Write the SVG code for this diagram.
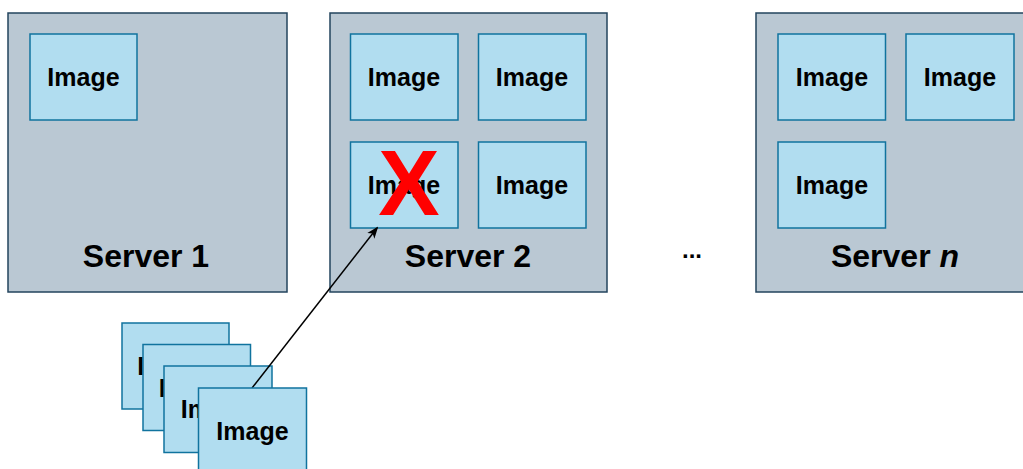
<svg xmlns="http://www.w3.org/2000/svg" width="1023" height="469" viewBox="0 0 1023 469">
<style>
.srv{fill:#bac8d3;stroke:#23445d;stroke-width:1.5}
.img{fill:#b1ddf0;stroke:#10739e;stroke-width:1.5}
.it{font-family:"Liberation Sans",Arial,sans-serif;font-weight:bold;font-size:25px;fill:#000;text-anchor:middle}
.st{font-family:"Liberation Sans",Arial,sans-serif;font-weight:bold;font-size:32px;fill:#000;text-anchor:middle}
</style>
<defs>
<marker id="ah" markerWidth="12" markerHeight="12" refX="10" refY="6" orient="auto" markerUnits="userSpaceOnUse" viewBox="0 0 12 12">
<path d="M0,1.5 L12,6 L0,10.5 L3,6 Z" fill="#000"/>
</marker>
</defs>
<rect width="1023" height="469" fill="#fff"/>
<g id="server1">
<rect class="srv" x="8" y="13" width="279" height="279"/>
<text class="st" x="146" y="267">Server 1</text>
</g>
<g id="s1-img1"><rect class="img" x="30" y="34" width="107" height="86"/><text class="it" x="83.5" y="86">Image</text></g>
<g id="server2">
<rect class="srv" x="330" y="13" width="277" height="279"/>
<text class="st" x="468" y="267">Server 2</text>
</g>
<g id="s2-img1"><rect class="img" x="350.5" y="34" width="107.5" height="86"/><text class="it" x="404" y="86">Image</text></g>
<g id="s2-img2"><rect class="img" x="478.5" y="34" width="107.5" height="86"/><text class="it" x="532" y="86">Image</text></g>
<g id="s2-img3"><rect class="img" x="350.5" y="142" width="107.5" height="86"/><text class="it" x="404" y="194">Image</text></g>
<g id="s2-img4"><rect class="img" x="478.5" y="142" width="107.5" height="86"/><text class="it" x="532" y="194">Image</text></g>
<g id="cross"><text x="409" y="215" font-family="'Liberation Sans',Arial,sans-serif" font-weight="bold" font-size="92" fill="#ff0000" text-anchor="middle">X</text></g>
<g id="ellipsis"><text x="692" y="258" font-family="'Liberation Sans',Arial,sans-serif" font-weight="bold" font-size="24" fill="#000" text-anchor="middle">...</text></g>
<g id="servern">
<rect class="srv" x="756" y="13" width="280" height="279"/>
<text class="st" x="895" y="267">Server <tspan font-style="italic">n</tspan></text>
</g>
<g id="sn-img1"><rect class="img" x="778" y="34" width="107.5" height="86"/><text class="it" x="832" y="86">Image</text></g>
<g id="sn-img2"><rect class="img" x="906" y="34" width="108" height="86"/><text class="it" x="960" y="86">Image</text></g>
<g id="sn-img3"><rect class="img" x="778" y="142" width="107.5" height="86"/><text class="it" x="832" y="194">Image</text></g>
<g id="stack1"><rect class="img" x="122" y="323" width="107" height="86"/><text class="it" x="173.5" y="375">Image</text></g>
<g id="stack2"><rect class="img" x="143" y="344.5" width="107.5" height="86"/><text class="it" x="195" y="396.5">Image</text></g>
<g id="stack3"><rect class="img" x="164" y="366" width="108" height="86.5"/><text class="it" x="217" y="418">Image</text></g>
<g id="connectors">
<line x1="252" y1="388" x2="377" y2="228" stroke="#000" stroke-width="1.5" marker-end="url(#ah)"/>
</g>
<g id="stack4"><rect class="img" x="198.5" y="388" width="108" height="86"/><text class="it" x="252.5" y="440">Image</text></g>
</svg>
